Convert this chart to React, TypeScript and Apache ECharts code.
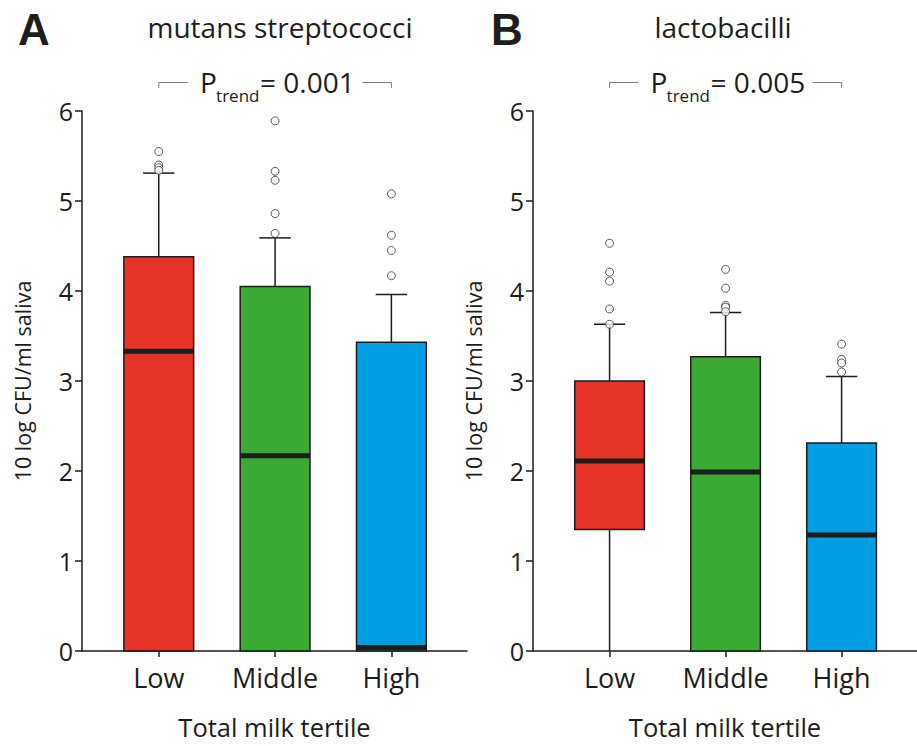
import React, { useEffect, useRef } from "react";
import * as echarts from "echarts";

const categories = ["Low", "Middle", "High"];
const yTicks = [0, 1, 2, 3, 4, 5, 6];

// Panel A: mutans streptococci
const msQ1 = [0, 0, 0];
const msMedian = [3.33, 2.17, 0.04];
const msQ3 = [4.38, 4.05, 3.43];
const msWhiskerLow = [0, 0, 0];
const msWhiskerHigh = [5.31, 4.59, 3.96];
const msOutliersLow = [5.55, 5.4, 5.37, 5.34];
const msOutliersMiddle = [5.89, 5.33, 5.23, 4.86, 4.64];
const msOutliersHigh = [5.08, 4.62, 4.45, 4.17];

// Panel B: lactobacilli
const lbQ1 = [1.35, 0, 0];
const lbMedian = [2.11, 1.99, 1.29];
const lbQ3 = [3.0, 3.27, 2.31];
const lbWhiskerLow = [0, 0, 0];
const lbWhiskerHigh = [3.63, 3.76, 3.05];
const lbOutliersLow = [4.53, 4.21, 4.11, 3.8, 3.63];
const lbOutliersMiddle = [4.24, 4.03, 3.84, 3.82, 3.77];
const lbOutliersHigh = [3.41, 3.24, 3.2, 3.1];

const pTrendA = "0.001";
const pTrendB = "0.005";

const boxColors = ["#e6332a", "#3aaa35", "#009fe3"];
const INK = "#1d1d1b";
const FONT = '"Open Sans", "Noto Sans", sans-serif';

function boxData(q1: number[], med: number[], q3: number[], wl: number[], wh: number[]) {
  return categories.map((_, i) => [i + 1, q1[i], med[i], q3[i], wl[i], wh[i]]);
}
function outlierData(groups: number[][]) {
  const out: number[][] = [];
  groups.forEach((g, i) => g.forEach((v) => out.push([i + 1, v])));
  return out;
}

const renderBox = (params: any, api: any) => {
  const x = api.value(0);
  const q1 = api.value(1);
  const med = api.value(2);
  const q3 = api.value(3);
  const wl = api.value(4);
  const wh = api.value(5);
  const halfBox = api.size([0.6, 0])[0] / 2;
  const halfCap = api.size([0.27, 0])[0] / 2;
  const cx = api.coord([x, 0])[0];
  const yq1 = api.coord([x, q1])[1];
  const ymed = api.coord([x, med])[1];
  const yq3 = api.coord([x, q3])[1];
  const ywl = api.coord([x, wl])[1];
  const ywh = api.coord([x, wh])[1];
  const lineStyle = { stroke: INK, lineWidth: 1.5 };
  const children: any[] = [
    { type: "line", shape: { x1: cx, y1: yq3, x2: cx, y2: ywh }, style: lineStyle },
    { type: "line", shape: { x1: cx - halfCap, y1: ywh, x2: cx + halfCap, y2: ywh }, style: lineStyle },
  ];
  if (wl < q1) {
    children.push({ type: "line", shape: { x1: cx, y1: yq1, x2: cx, y2: ywl }, style: lineStyle });
  }
  children.push({
    type: "rect",
    shape: { x: cx - halfBox, y: yq3, width: halfBox * 2, height: yq1 - yq3 },
    style: { fill: boxColors[params.dataIndex], stroke: INK, lineWidth: 1.5 },
  });
  children.push({
    type: "rect",
    shape: { x: cx - halfBox, y: ymed - 2.5, width: halfBox * 2, height: 5 },
    style: { fill: INK },
  });
  return { type: "group", children };
};

function xAxisCfg(gridIndex: number) {
  return {
    type: "value",
    gridIndex,
    min: 0.34,
    max: 3.65,
    name: "Total milk tertile",
    nameLocation: "middle",
    nameGap: 63,
    nameTextStyle: { fontFamily: FONT, fontSize: 25.5, lineHeight: 26, color: INK },
    axisLine: { show: true, onZero: true, lineStyle: { color: INK, width: 1.5 } },
    axisTick: { show: true, length: 6, customValues: [1, 2, 3], lineStyle: { color: INK, width: 1.5 } },
    axisLabel: {
      customValues: [1, 2, 3],
      formatter: (v: number) => categories[Math.round(v) - 1] ?? "",
      fontFamily: FONT,
      fontSize: 27,
      color: INK,
      margin: 13,
    },
    splitLine: { show: false },
  };
}
function yAxisCfg(gridIndex: number) {
  return {
    type: "value",
    gridIndex,
    min: yTicks[0],
    max: yTicks[yTicks.length - 1],
    interval: 1,
    name: "10 log CFU/ml saliva",
    nameLocation: "middle",
    nameGap: 49,
    nameTextStyle: { fontFamily: FONT, fontSize: 21.5, color: INK },
    axisLine: { show: true, lineStyle: { color: INK, width: 1.5 } },
    axisTick: { show: true, length: 7, lineStyle: { color: INK, width: 1.5 } },
    axisLabel: { fontFamily: FONT, fontSize: 25, color: INK, margin: 9 },
    splitLine: { show: false },
  };
}

function outlierSeries(idx: number, data: number[][]) {
  return {
    type: "scatter",
    xAxisIndex: idx,
    yAxisIndex: idx,
    data,
    symbol: "circle",
    symbolSize: 8,
    itemStyle: { color: "#ffffff", borderColor: "#333333", borderWidth: 1 },
    z: 5,
    silent: true,
  };
}

export default function App() {
  const ref = useRef<HTMLDivElement>(null);
  useEffect(() => {
    if (!ref.current) return;
    const chart = echarts.init(ref.current, null, { renderer: "svg" });
    chart.setOption({
      animation: false,
      backgroundColor: "#ffffff",
      grid: [
        { left: 82, top: 111, width: 385, height: 540, outerBoundsMode: "none", containLabel: false },
        { left: 533, top: 111, width: 384, height: 540, outerBoundsMode: "none", containLabel: false },
      ],
      xAxis: [xAxisCfg(0), xAxisCfg(1)],
      yAxis: [yAxisCfg(0), yAxisCfg(1)],
      series: [
        {
          type: "custom",
          xAxisIndex: 0,
          yAxisIndex: 0,
          renderItem: renderBox,
          data: boxData(msQ1, msMedian, msQ3, msWhiskerLow, msWhiskerHigh),
          encode: { x: 0, y: [1, 2, 3, 4, 5] },
          z: 2,
        },
        {
          type: "custom",
          xAxisIndex: 1,
          yAxisIndex: 1,
          renderItem: renderBox,
          data: boxData(lbQ1, lbMedian, lbQ3, lbWhiskerLow, lbWhiskerHigh),
          encode: { x: 0, y: [1, 2, 3, 4, 5] },
          z: 2,
        },
        outlierSeries(0, outlierData([msOutliersLow, msOutliersMiddle, msOutliersHigh])),
        outlierSeries(1, outlierData([lbOutliersLow, lbOutliersMiddle, lbOutliersHigh])),
      ],
    });

    const annot = (gridIndex: number, p: string) => {
      const xl = chart.convertToPixel({ gridIndex }, [1, 0])[0];
      const xr = chart.convertToPixel({ gridIndex }, [3, 0])[0];
      const mid = (xl + xr) / 2;
      const lineStyle = { stroke: "#808080", lineWidth: 1 };
      return [
        { type: "polyline", shape: { points: [[xl, 88], [xl, 82.5], [xl + 29, 82.5]] }, style: { ...lineStyle, fill: null } },
        { type: "polyline", shape: { points: [[xr - 29, 82.5], [xr, 82.5], [xr, 88]] }, style: { ...lineStyle, fill: null } },
        { type: "text", x: mid - 75, y: 82, style: { text: "P", font: `28px ${FONT}`, fill: INK, verticalAlign: "middle", align: "left" } },
        { type: "text", x: mid - 59, y: 95, style: { text: "trend", font: `17px ${FONT}`, fill: INK, verticalAlign: "middle", align: "left" } },
        { type: "text", x: mid - 15, y: 82, style: { text: "= " + p, font: `28px ${FONT}`, fill: INK, verticalAlign: "middle", align: "left" } },
      ];
    };

    chart.setOption({
      graphic: [
        { type: "text", x: 34, y: 29, style: { text: "A", font: `bold 44px "Liberation Sans", Arial, sans-serif`, fill: INK, align: "center", verticalAlign: "middle" } },
        { type: "text", x: 507, y: 29, style: { text: "B", font: `bold 44px "Liberation Sans", Arial, sans-serif`, fill: INK, align: "center", verticalAlign: "middle" } },
        { type: "text", x: 280, y: 27, style: { text: "mutans streptococci", font: `28px ${FONT}`, fill: INK, align: "center", verticalAlign: "middle" } },
        { type: "text", x: 723, y: 27, style: { text: "lactobacilli", font: `28px ${FONT}`, fill: INK, align: "center", verticalAlign: "middle" } },
        ...annot(0, pTrendA),
        ...annot(1, pTrendB),
      ],
    });
    return () => chart.dispose();
  }, []);
  return <div ref={ref} style={{ position: "absolute", left: 0, top: 0, width: 917, height: 746 }} />;
}
